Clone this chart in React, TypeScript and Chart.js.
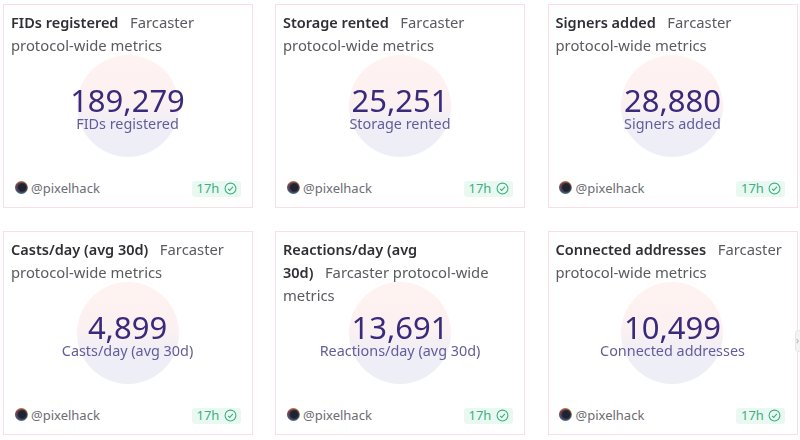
import React, { useEffect, useRef } from "react";
import { Chart, registerables } from "chart.js";

Chart.register(...registerables);

const metricNames = [
  "FIDs registered",
  "Storage rented",
  "Signers added",
  "Casts/day (avg 30d)",
  "Reactions/day (avg 30d)",
  "Connected addresses",
];
const metricValues = [189279, 25251, 28880, 4899, 13691, 10499];
const titleBold = [
  ["FIDs registered"],
  ["Storage rented"],
  ["Signers added"],
  ["Casts/day (avg 30d)"],
  ["Reactions/day (avg", "30d)"],
  ["Connected addresses"],
];
const titleRest = [
  ["Farcaster", "protocol-wide metrics"],
  ["Farcaster", "protocol-wide metrics"],
  ["Farcaster", "protocol-wide metrics"],
  ["Farcaster", "protocol-wide metrics"],
  ["Farcaster protocol-wide", "metrics"],
  ["Farcaster", "protocol-wide metrics"],
];
const author = "@pixelhack";
const age = "17h";

const FONT = "'Noto Sans', sans-serif";
const cardX = [3, 275, 547.5];
const cardY = [4, 231];
const textShift = [-1.5, -1, -1];

function Circle({ value }: { value: number }) {
  const ref = useRef<HTMLCanvasElement | null>(null);
  useEffect(() => {
    const chart = new Chart(ref.current!, {
      type: "pie",
      data: {
        labels: ["value"],
        datasets: [
          {
            data: [value],
            borderWidth: 0,
            backgroundColor: (c: any) => {
              const area = c.chart.chartArea;
              if (!area) return "#f6f1f3";
              const g = c.chart.ctx.createLinearGradient(0, area.top, 0, area.bottom);
              g.addColorStop(0, "#fef3f0");
              g.addColorStop(0.45, "#fcf1f1");
              g.addColorStop(0.68, "#efeef6");
              g.addColorStop(1, "#eeeef7");
              return g;
            },
          },
        ],
      },
      options: {
        animation: false,
        responsive: false,
        maintainAspectRatio: false,
        layout: { padding: 0 },
        plugins: { legend: { display: false }, tooltip: { enabled: false } },
      },
    });
    return () => chart.destroy();
  }, [value]);
  return (
    <canvas
      ref={ref}
      width={102}
      height={102}
      style={{ position: "absolute", left: 72.5, top: 49.5, width: 102, height: 102 }}
    />
  );
}

function Card({ index }: { index: number }) {
  const col = index % 3;
  const row = Math.floor(index / 3);
  const bold = titleBold[index];
  const rest = titleRest[index];
  const lines: React.ReactNode[] = [];
  bold.forEach((b, i) => {
    const last = i === bold.length - 1;
    lines.push(
      <div key={"l" + i} style={{ height: 23, whiteSpace: "pre" }}>
        <span style={{ fontWeight: 600, color: "#2f2f35" }}>{b}</span>
        {last ? <span style={{ color: "#5a5a60", fontSize: 14.8 }}>{"   " + rest[0]}</span> : null}
      </div>
    );
  });
  rest.slice(1).forEach((r, i) => {
    lines.push(
      <div key={"r" + i} style={{ height: 23, whiteSpace: "pre", color: "#5a5a60", fontSize: 14.8 }}>
        {r}
      </div>
    );
  });
  return (
    <div
      style={{
        position: "absolute",
        left: cardX[col],
        top: cardY[row],
        width: 250,
        height: 204,
        boxSizing: "border-box",
        border: "1.5px solid #fbdde5",
        background: "#fff",
        fontFamily: FONT,
      }}
    >
      <Circle value={metricValues[index]} />
      <div style={{ position: "absolute", left: 7, top: 6, fontSize: 14.5, lineHeight: "23px" }}>{lines}</div>
      <div
        style={{
          position: "absolute",
          left: textShift[col],
          width: 250,
          top: 82,
          textAlign: "center",
          fontSize: 31,
          lineHeight: "26px",
          color: "#3a2a7c",
        }}
      >
        {metricValues[index].toLocaleString("en-US")}
      </div>
      <div
        style={{
          position: "absolute",
          left: textShift[col],
          width: 250,
          top: 110,
          textAlign: "center",
          fontSize: 14.4,
          lineHeight: "18px",
          color: "#625d9a",
        }}
      >
        {metricNames[index]}
      </div>
      <div
        style={{
          position: "absolute",
          left: 10.5,
          top: 176,
          width: 13,
          height: 13,
          borderRadius: "50%",
          background:
            "radial-gradient(circle at 55% 50%, #1f2233 0 35%, #3d3a4a 48%, rgba(0,0,0,0) 60%), conic-gradient(#c46a3a, #d9a441, #4b7a8c, #3d5a80, #7a3f4f, #c46a3a)",
        }}
      />
      <div
        style={{
          position: "absolute",
          left: 27,
          top: 171.5,
          fontSize: 13,
          lineHeight: "22px",
          color: "#6c6c72",
        }}
      >
        {author}
      </div>
      <div
        style={{
          position: "absolute",
          left: 187.5,
          top: 175.5,
          width: 49,
          height: 16,
          borderRadius: 3,
          background: "#e9f9f1",
          color: "#3fae82",
          fontSize: 13,
          lineHeight: "15px",
        }}
      >
        <span style={{ position: "absolute", left: 5, top: 0 }}>{age}</span>
        <svg width="13" height="13" viewBox="0 0 24 24" style={{ position: "absolute", left: 32, top: 1.5 }}>
          <circle cx="12" cy="12" r="10" fill="none" stroke="#3fae82" strokeWidth="2" />
          <path d="M7.5 12.5l3 3 6-6.5" fill="none" stroke="#3fae82" strokeWidth="2" />
        </svg>
      </div>
    </div>
  );
}

export default function App() {
  return (
    <div
      style={{
        position: "fixed",
        left: 0,
        top: 0,
        width: 800,
        height: 440,
        overflow: "hidden",
        background: "#fff",
        filter: "blur(0.3px)",
      }}
    >
      {metricNames.map((_, i) => (
        <Card key={i} index={i} />
      ))}
      <div
        style={{
          position: "absolute",
          left: 795,
          top: 330,
          width: 8,
          height: 20,
          background: "#f3f3f3",
          border: "1px solid #e8e8e8",
          borderRadius: 3,
          color: "#aaa",
          fontFamily: FONT,
          fontSize: 10,
          lineHeight: "18px",
        }}
      >
        ›
      </div>
    </div>
  );
}
